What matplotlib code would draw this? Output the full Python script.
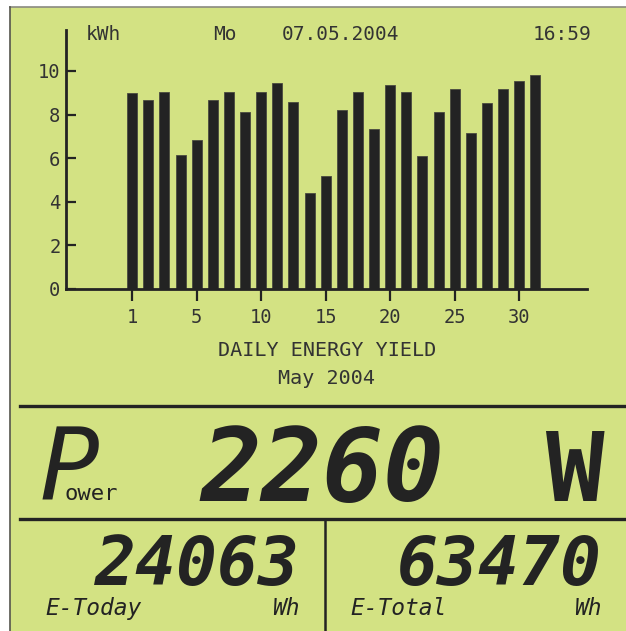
import matplotlib.pyplot as plt
from matplotlib.patches import Rectangle
from matplotlib.lines import Line2D

bar_pos = list(range(1, 27))
daily_kwh = [9.00, 8.66, 9.04, 6.13, 6.83, 8.66, 9.04, 8.12, 9.04, 9.46, 8.59, 4.39, 5.20,
             8.21, 9.04, 7.33, 9.37, 9.04, 6.12, 8.10, 9.19, 7.16, 8.55, 9.19, 9.56, 9.80]
x_tick_pos = [1, 5, 9, 13, 17, 21, 25]
x_tick_labels = ["1", "5", "10", "15", "20", "25", "30"]
y_ticks = [0, 2, 4, 6, 8, 10]

header_unit = "kWh"
header_day = "Mo"
header_date = "07.05.2004"
header_time = "16:59"
chart_title = "DAILY ENERGY YIELD"
chart_month = "May 2004"

power_value = "2260"
today_value = "24063"
total_value = "63470"

W, H = 626, 631
LCD = "#d3e283"
INK = "#232323"
MONO = "DejaVu Sans Mono"


def px(x, y):
    # pixel coords (origin top-left) -> figure fraction
    return x / W, 1 - y / H


fig = plt.figure(figsize=(W / 100, H / 100), dpi=100)
fig.patch.set_facecolor("white")

# lcd panel
x0, y0 = px(10, 631)
fig.patches.append(Rectangle((x0, y0), 1 - x0, 1 - 7 / H - y0, transform=fig.transFigure,
                             facecolor=LCD, edgecolor="none", zorder=-5))
fig.lines.append(Line2D([10 / W, 1], [1 - 7 / H] * 2, transform=fig.transFigure, color="#8a8a80", lw=1.2))
fig.lines.append(Line2D([10 / W] * 2, [0, 1 - 7 / H], transform=fig.transFigure, color="#55554d", lw=1.2))

# bar chart
l, b = px(66, 289)
r, t = px(587, 30)
ax = fig.add_axes([l, b, r - l, t - b])
ax.set_zorder(3)
ax.patch.set_visible(False)
ax.bar(bar_pos, daily_kwh, width=0.62, color=INK, edgecolor="#4a4a40", linewidth=0.6)
ax.set_xlim(-3.1, 29.2)
ax.set_ylim(0, 11.88)
ax.set_xticks(x_tick_pos)
ax.set_xticklabels(x_tick_labels)
ax.set_yticks(y_ticks)
for s in ["top", "right"]:
    ax.spines[s].set_visible(False)
for s in ["left", "bottom"]:
    ax.spines[s].set_linewidth(2)
    ax.spines[s].set_color(INK)
ax.tick_params(axis="x", direction="out", length=8.5, width=1.6, color=INK, pad=5,
               labelsize=13.5, labelcolor="#333")
ax.tick_params(axis="y", direction="in", length=7.2, width=1.6, color=INK, pad=4,
               labelsize=13.5, labelcolor="#333")
for lab in ax.get_xticklabels() + ax.get_yticklabels():
    lab.set_family(MONO)

# header line
hy = px(0, 34)[1]
fig.text(86 / W, hy, header_unit, family=MONO, fontsize=14, color="#333", va="center")
fig.text(213 / W, hy, header_day, family=MONO, fontsize=14, color="#333", va="center")
fig.text(282 / W, hy, header_date, family=MONO, fontsize=14, color="#333", va="center")
fig.text(591 / W, hy, header_time, family=MONO, fontsize=14, color="#333", va="center", ha="right")

# captions under the chart
fig.text(*px(327, 350), chart_title, family=MONO, fontsize=14.5, color="#333", ha="center", va="center")
fig.text(*px(327, 379), chart_month, family=MONO, fontsize=14.5, color="#333", ha="center", va="center")

# separators
fig.lines.append(Line2D([20 / W, 1], [px(0, 406)[1]] * 2, transform=fig.transFigure, color=INK, lw=2.4))
fig.lines.append(Line2D([20 / W, 1], [px(0, 519)[1]] * 2, transform=fig.transFigure, color=INK, lw=2.4))
fig.lines.append(Line2D([325 / W] * 2, [0, px(0, 519)[1]], transform=fig.transFigure, color=INK, lw=1.8))

# power row
fig.text(*px(40, 500), "P", family=MONO, style="oblique", fontsize=72, color=INK, va="baseline")
fig.text(*px(64, 500), "ower", family=MONO, fontsize=16, color=INK, va="baseline")
fig.text(*px(200, 501), power_value, family=MONO, weight="bold", style="oblique", fontsize=73,
         color=INK, va="baseline")
fig.text(*px(604, 501), "W", family=MONO, weight="bold", fontsize=70,
         color=INK, va="baseline", ha="right")

# energy row
fig.text(*px(300, 585), today_value, family=MONO, weight="bold", style="oblique", fontsize=49,
         color=INK, va="baseline", ha="right")
fig.text(*px(602, 585), total_value, family=MONO, weight="bold", style="oblique", fontsize=49,
         color=INK, va="baseline", ha="right")
fig.text(*px(45, 615), "E-Today", family=MONO, style="oblique", fontsize=16.5, color=INK, va="baseline")
fig.text(*px(300, 615), "Wh", family=MONO, style="oblique", fontsize=16.5, color=INK, va="baseline", ha="right")
fig.text(*px(350, 615), "E-Total", family=MONO, style="oblique", fontsize=16.5, color=INK, va="baseline")
fig.text(*px(602, 615), "Wh", family=MONO, style="oblique", fontsize=16.5, color=INK, va="baseline", ha="right")

fig.savefig("out.png", dpi=100, facecolor=fig.get_facecolor())
